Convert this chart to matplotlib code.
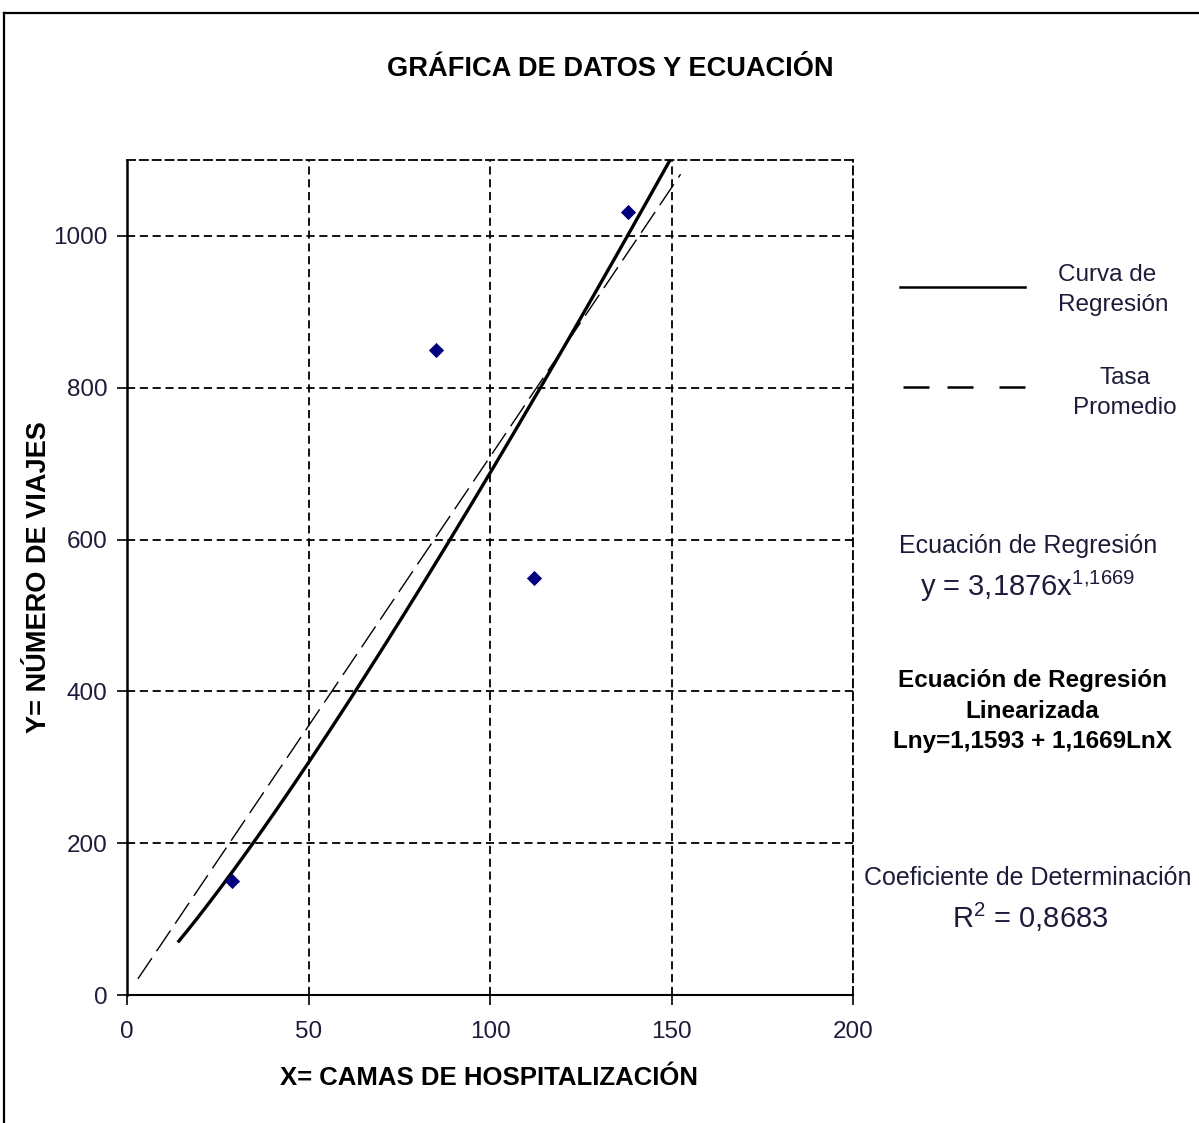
import numpy as np
import matplotlib
matplotlib.use("Agg")
import matplotlib.pyplot as plt
from matplotlib.lines import Line2D

plt.rcParams['font.family'] = ['Liberation Sans', 'DejaVu Sans']
plt.rcParams['mathtext.fontset'] = 'custom'
plt.rcParams['mathtext.rm'] = 'Liberation Sans'
plt.rcParams['mathtext.it'] = 'Liberation Sans'

# Data
x_camas = [29, 85, 112, 138]
y_viajes = [150, 850, 550, 1032]
coef_a = 3.1876
coef_b = 1.1669
tasa_promedio = 7.09
curve_x_range = [14, 150]
tasa_x_range = [3, 152.5]
x_ticks = [0, 50, 100, 150, 200]
y_ticks = [0, 200, 400, 600, 800, 1000]

txt_col = '#1c1c3a'
W, H = 1199, 1123

fig = plt.figure(figsize=(W / 100, H / 100), dpi=100)
ax = fig.add_axes([127 / W, 1 - 995 / H, (853 - 127) / W, (995 - 160) / H])

xc = np.linspace(curve_x_range[0], curve_x_range[1], 300)
ax.plot(xc, coef_a * xc ** coef_b, color='black', lw=2.4, zorder=4, solid_capstyle='butt')
xt = np.array(tasa_x_range)
ax.plot(xt, tasa_promedio * xt, color='black', lw=1.0, dashes=(18, 6), zorder=3)
ax.scatter(x_camas, y_viajes, marker='D', s=60, color='#00007f', zorder=5, linewidths=0)

ax.set_xlim(0, 200)
ax.set_ylim(0, 1100)
ax.set_xticks(x_ticks)
ax.set_yticks(y_ticks)
ax.grid(True, color='black', linestyle=(0, (4.5, 2.6)), lw=1.3)
ax.set_axisbelow(True)
ax.tick_params(direction='out', length=7, width=1.2, labelsize=17.5, colors='black',
               labelcolor=txt_col, pad=7)
ax.tick_params(axis='x', pad=12)
ax.spines['left'].set_linewidth(1.8)
ax.spines['bottom'].set_linewidth(1.5)
for s in ['top', 'right']:
    ax.spines[s].set_linestyle((0, (4.5, 2.6)))
    ax.spines[s].set_linewidth(1.3)

ax.set_xlabel('X= CAMAS DE HOSPITALIZACIÓN', fontsize=18.5, fontweight='bold', va='center')
ax.xaxis.set_label_coords((488.5 - 127) / 726, (995 - 1078) / 835)
ax.set_ylabel('Y= NÚMERO DE VIAJES', fontsize=19.5, fontweight='bold', va='center')
ax.yaxis.set_label_coords((39 - 127) / 726, (995 - 577) / 835)

fig.text(610 / W, 1 - 69 / H, 'GRÁFICA DE DATOS Y ECUACIÓN', fontsize=19.6, fontweight='bold',
         ha='center', va='center')

# legend (manual)
fig.add_artist(Line2D([900 / W, 1025 / W], [1 - 287 / H, 1 - 287 / H], color='black', lw=1.8))
fig.add_artist(Line2D([903 / W, 1027 / W], [1 - 387 / H, 1 - 387 / H], color='black', lw=1.8,
                      dashes=(10.4, 7.2, 10.4, 10.4)))
fig.text(1058 / W, 1 - 290 / H, 'Curva de\nRegresión', fontsize=17.5, color=txt_col,
         ha='left', va='center', linespacing=1.45)
fig.text(1125 / W, 1 - 393 / H, 'Tasa\nPromedio', fontsize=17.5, color=txt_col,
         ha='center', va='center', linespacing=1.45)

fig.text(1028 / W, 1 - 546 / H, 'Ecuación de Regresión', fontsize=18, color=txt_col,
         ha='center', va='center')
fig.text(1028 / W, 1 - 586 / H, r'y = 3,1876x$^{1{,}1669}$', fontsize=21, color=txt_col,
         ha='center', va='center')
fig.text(1032 / W, 1 - 711 / H, 'Ecuación de Regresión\nLinearizada\nLny=1,1593 + 1,1669LnX',
         fontsize=17.5, fontweight='bold', color='black', ha='center', va='center',
         linespacing=1.4)
fig.text(1028 / W, 1 - 878 / H, 'Coeficiente de Determinación', fontsize=18, color=txt_col,
         ha='center', va='center')
fig.text(1030 / W, 1 - 917 / H, r'R$^{2}$ = 0,8683', fontsize=21, color=txt_col,
         ha='center', va='center')

# outer frame
fig.add_artist(Line2D([3.5 / W, 3.5 / W], [0, 1 - 13 / H], color='black', lw=1.6))
fig.add_artist(Line2D([3.5 / W, 1], [1 - 13 / H, 1 - 13 / H], color='black', lw=1.6))

fig.savefig('out.png', dpi=100)
